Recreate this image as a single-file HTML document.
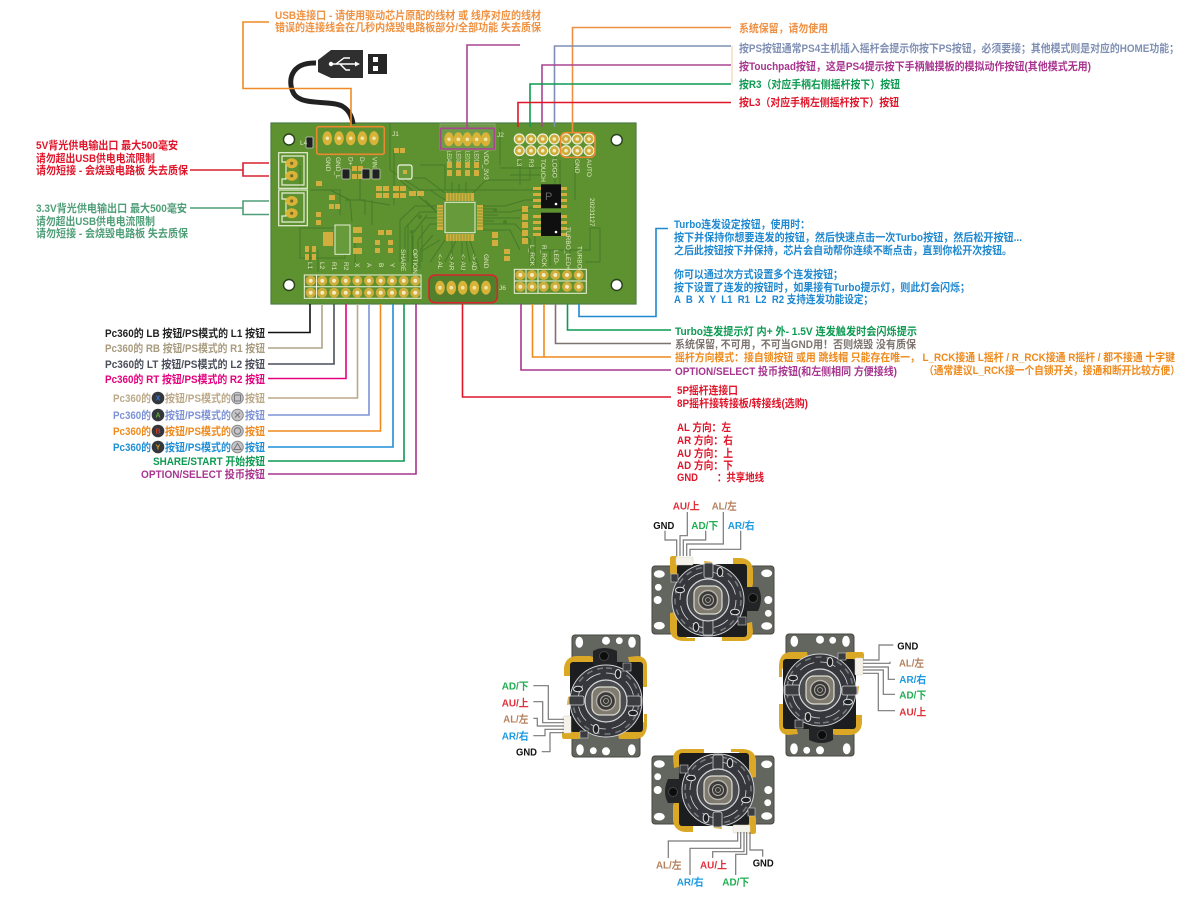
<!DOCTYPE html>
<html><head><meta charset="utf-8"><style>
html,body{margin:0;padding:0;background:#fff}
svg{display:block;filter:blur(.35px)}
text{font-family:"Liberation Sans","Noto Sans CJK SC",sans-serif;font-size:11px;font-weight:700}
.s text{font-size:6.5px;font-weight:400;fill:#dfeac2}
.w{fill:none;stroke:#787878;stroke-width:1.2}
.l{fill:none;stroke-width:1.6}
.j{font-size:10.5px}
</style></head><body>
<svg width="1200" height="900" viewBox="0 0 1200 900" xmlns="http://www.w3.org/2000/svg">
<defs>
<g id="pad"><ellipse rx="4.8" ry="7" fill="#d8b338"/><circle r="1.8" fill="#efe6a8"/></g>
<g id="pin"><circle r="5.6" fill="#eef2d8"/><circle r="4.4" fill="#cfad3a"/><circle r="1.8" fill="#f3ecc0"/></g>
<g id="pin2"><circle r="5" fill="#cfad3a"/><circle r="2" fill="#f3ecc0"/></g>
<g id="joy">
<rect x="-56" y="-34" width="122" height="68" rx="3" fill="#63665f" stroke="#44473f"/>
<ellipse cx="-48.7" cy="-26" rx="5.5" ry="3.8" fill="#fff"/>
<ellipse cx="58.7" cy="-26.7" rx="5.5" ry="3.8" fill="#fff"/>
<ellipse cx="-48.7" cy="25.7" rx="5.5" ry="3.8" fill="#fff"/>
<ellipse cx="58.7" cy="26" rx="5.5" ry="3.8" fill="#fff"/>
<circle cx="-49.700" cy="-12.700" r="3.400" fill="#fff"/>
<circle cx="-50.300" cy="0" r="4" fill="#fff"/>
<circle cx="60.300" cy="0" r="4" fill="#fff"/>
<circle cx="60.300" cy="13.300" r="3.400" fill="#fff"/>
<path d="M-38 -42q0-2 3-2h3q4 1 5 6v14h-3q-8 1-8-4Z" fill="#dba826"/>
<path d="M-4 -39l8 1 2 5-8 2Z" fill="#dba826"/>
<path d="M25 -42h8q11 1 12 12v14q-1 6-5 6l-6-12q0-9-9-13Z" fill="#dba826"/>
<path d="M-38 13l5-1 12 26h8v3h-12q-13-1-13-12Z" fill="#dba826"/>
<path d="M14 41v-5l13-10 17-4 1 10q-1 9-10 9Z" fill="#dba826"/>
<rect x="-31" y="-36" width="70" height="73" rx="3" fill="#1c1d1f"/>
<path d="M36 -13H50Q56 -2 50 11H36Z" fill="#232426"/>
<circle cx="45" cy="-2" r="4.500" fill="#0d0d0d" stroke="#444"/>
<rect x="-32" y="-43" width="17" height="8" rx="1" fill="#f4f2ea" stroke="#d8d4c4" stroke-width=".5"/>
<circle r="36" fill="#35373c" stroke="#cfd2d4" stroke-width="1"/>
<circle r="28" fill="none" stroke="#d4d6d8" stroke-width=".8" stroke-dasharray="16 6"/>
<circle r="33" fill="none" stroke="#777a7e" stroke-width="1.5" stroke-dasharray="6 5"/>
<rect x="-4" y="-37" width="9" height="15" rx="2" fill="#3a3c40" stroke="#d0d2d4" stroke-width=".8"/>
<rect x="-5" y="20" width="10" height="15" rx="2" fill="#3a3c40" stroke="#d0d2d4" stroke-width=".8"/>
<ellipse cx="-28" cy="-10" rx="4.500" ry="2.800" fill="#202124" stroke="#e2e2e2" stroke-width="1"/>
<ellipse cx="27" cy="12" rx="4.500" ry="2.800" fill="#202124" stroke="#e2e2e2" stroke-width="1"/>
<ellipse cx="12" cy="-28" rx="2.800" ry="4.500" fill="#202124" stroke="#e2e2e2" stroke-width="1"/>
<ellipse cx="-12" cy="27" rx="2.800" ry="4.500" fill="#202124" stroke="#e2e2e2" stroke-width="1"/>
<rect x="-37" y="-26" width="7" height="8" fill="#3a3c40" stroke="#ccc" stroke-width=".6"/>
<rect x="30" y="17" width="8" height="8" fill="#3a3c40" stroke="#ccc" stroke-width=".6"/>
<circle r="21" fill="#4a4c50" stroke="#d5d7d9" stroke-width="1.200"/>
<rect x="-14" y="-14" width="28" height="28" rx="8" fill="#7f7b70" stroke="#dedbd0" stroke-width="1.200"/>
<circle r="9.500" fill="#3a3a3a" stroke="#b5b1a6" stroke-width="1.400"/>
<circle r="5.500" fill="none" stroke="#b0aca2" stroke-width="1"/>
<circle r="2.500" fill="none" stroke="#b0aca2" stroke-width=".8"/>
</g>
</defs>

<!-- board -->
<rect x="271" y="123" width="365" height="181" fill="#5e9130" stroke="#4c7d44" stroke-width="1.200"/>
<g fill="none" stroke="#477a28" stroke-width="1">
<path d="M390 123V170L420 190H540M394 150V205M400 180L440 215M420 165H445V190M440 125V150M500 128V165M510 175H541M500 168H541M510 190H541"/>
<path d="M437 206H415L400 220V262M437 212H420L405 228V268M437 218H425L412 234V272M437 224H430L418 240V270M445 240L430 262M452 241V270M462 241V272M470 241L480 270"/>
<path d="M483 206H505L525 200H541M483 212H510L530 208H541M483 218H520M483 224H515L530 240V266M483 230H510L520 250M540 250H590V228H600V262H585"/>
<path d="M300 228H345V258H300ZM310 250V270M318 250V272M355 238V265M372 200V225M360 175V200L390 205M345 200H365V215M330 190L350 200L352 222"/>
<path d="M520 155V185M530 155V180M555 155V185M560 160V185M575 160V200M570 250V266M550 250V266M535 235V266M430 190L445 200M425 200L435 210"/>
<path d="M408 225V262M413 235V266M422 225V262M427 215L414 232M433 235L420 250M300 165V190M310 190H340V215M445 193L425 178H400M452 193V182M459 193V184M466 193V182M473 193L486 180H530"/>
<path d="M483 209H495M483 215H498M483 221H494M440 240L420 252V268M456 241L445 262M466 241L470 262"/>
</g>
<g fill="#4a8128">
<circle cx="447" cy="212" r="2"/><circle cx="458" cy="212" r="2"/><circle cx="466" cy="218" r="2"/><circle cx="454" cy="223" r="2"/><circle cx="462" cy="227" r="2"/><circle cx="420" cy="217" r="2"/><circle cx="412" cy="232" r="2"/><circle cx="495" cy="210" r="2"/><circle cx="505" cy="222" r="2"/>
</g>
<!-- holes -->
<g fill="#fff" stroke="#28421c" stroke-width="1.400">
<circle cx="289" cy="139.500" r="5.500"/><circle cx="616.700" cy="140" r="5.500"/><circle cx="289" cy="285" r="5.500"/><circle cx="616.700" cy="285" r="5.500"/>
</g>
<!-- JST -->
<g fill="none" stroke="#e6efd6" stroke-width="1.200">
<rect x="278.700" y="152.700" width="28.600" height="35.600"/>
<rect x="278.700" y="190" width="28.600" height="35.700"/>
<path d="M282 156H304V185H282V179H286V162H282Z"/>
<path d="M282 193H304V222H282V216H286V199H282Z"/>
</g>
<g fill="#d8b338"><ellipse cx="291.700" cy="163.300" rx="6" ry="5"/><ellipse cx="291.700" cy="175.700" rx="6" ry="5"/><ellipse cx="291.700" cy="201" rx="6" ry="5"/><ellipse cx="291.700" cy="213.300" rx="6" ry="5"/></g>
<g fill="#7a6a20"><circle cx="291.700" cy="163.300" r="1.600"/><circle cx="291.700" cy="175.700" r="1.600"/><circle cx="291.700" cy="201" r="1.600"/><circle cx="291.700" cy="213.300" r="1.600"/></g>
<!-- J1 -->
<use href="#pad" x="327.300" y="138.300"/><use href="#pad" x="339" y="138.300"/><use href="#pad" x="350.700" y="138.300"/><use href="#pad" x="362.300" y="138.300"/><use href="#pad" x="374" y="138.300"/>
<rect x="316.700" y="126.700" width="67.600" height="27.600" rx="2" fill="none" stroke="#e9892f" stroke-width="1.600"/>
<!-- J2 -->
<rect x="440" y="124" width="55" height="26" fill="#6f9a48" stroke="#8fae70" stroke-width=".8"/>
<use href="#pad" x="449" y="139.300"/><use href="#pad" x="458.300" y="139.300"/><use href="#pad" x="467.300" y="139.300"/><use href="#pad" x="476.700" y="139.300"/><use href="#pad" x="485.700" y="139.300"/>
<rect x="440.700" y="128.300" width="53.600" height="20.700" fill="none" stroke="#a8468f" stroke-width="1.600"/>
<!-- J6 -->
<g>
<use href="#pin" x="519.300" y="139"/><use href="#pin" x="531" y="139"/><use href="#pin" x="542.700" y="139"/><use href="#pin" x="554.300" y="139"/><use href="#pin" x="566" y="139"/><use href="#pin" x="577.300" y="139"/><use href="#pin" x="589" y="139"/>
<use href="#pin" x="519.300" y="150.700"/><use href="#pin" x="531" y="150.700"/><use href="#pin" x="542.700" y="150.700"/><use href="#pin" x="554.300" y="150.700"/><use href="#pin" x="566" y="150.700"/><use href="#pin" x="577.300" y="150.700"/><use href="#pin" x="589" y="150.700"/>
</g>
<rect x="560.700" y="132.700" width="34.300" height="24.600" rx="5" fill="none" stroke="#e9892f" stroke-width="1.600"/>
<!-- red box J -->
<rect x="429" y="275" width="68.300" height="27.700" rx="6" fill="#527f2c" stroke="#d8252e" stroke-width="1.600"/>
<use href="#pad" x="440" y="287.700"/><use href="#pad" x="451.300" y="287.700"/><use href="#pad" x="462.700" y="287.700"/><use href="#pad" x="474.300" y="287.700"/><use href="#pad" x="486" y="287.700"/>
<!-- bottom left header -->
<g fill="none" stroke="#eef2d8" stroke-width="1"><rect x="304.300" y="275" width="116.700" height="23.300"/><path d="M304.300 286.700H421M316.500 275V298.300"/></g>
<g>
<use href="#pin2" x="310.700" y="280.700"/><use href="#pin2" x="322.300" y="280.700"/><use href="#pin2" x="334" y="280.700"/><use href="#pin2" x="345.700" y="280.700"/><use href="#pin2" x="357.300" y="280.700"/><use href="#pin2" x="369" y="280.700"/><use href="#pin2" x="380.700" y="280.700"/><use href="#pin2" x="392" y="280.700"/><use href="#pin2" x="403.700" y="280.700"/><use href="#pin2" x="415.300" y="280.700"/>
<use href="#pin2" x="310.700" y="292.700"/><use href="#pin2" x="322.300" y="292.700"/><use href="#pin2" x="334" y="292.700"/><use href="#pin2" x="345.700" y="292.700"/><use href="#pin2" x="357.300" y="292.700"/><use href="#pin2" x="369" y="292.700"/><use href="#pin2" x="380.700" y="292.700"/><use href="#pin2" x="392" y="292.700"/><use href="#pin2" x="403.700" y="292.700"/><use href="#pin2" x="415.300" y="292.700"/>
</g>
<!-- bottom right header -->
<g fill="none" stroke="#eef2d8" stroke-width="1"><rect x="514.300" y="269.300" width="72" height="24"/><path d="M514.300 281H586.300M526 269.300V293.300M538 269.300V293.300"/></g>
<g>
<use href="#pin2" x="520.300" y="275"/><use href="#pin2" x="532" y="275"/><use href="#pin2" x="543.700" y="275"/><use href="#pin2" x="555.300" y="275"/><use href="#pin2" x="567" y="275"/><use href="#pin2" x="578.700" y="275"/>
<use href="#pin2" x="520.300" y="286.700"/><use href="#pin2" x="532" y="286.700"/><use href="#pin2" x="543.700" y="286.700"/><use href="#pin2" x="555.300" y="286.700"/><use href="#pin2" x="567" y="286.700"/><use href="#pin2" x="578.700" y="286.700"/>
</g>
<!-- MCU -->
<g fill="#d1ae3d">
<rect x="446" y="193" width="28" height="8"/><rect x="446" y="234" width="28" height="7"/><rect x="437" y="205" width="6" height="25"/><rect x="477" y="205" width="6" height="25"/>
</g>
<g stroke="#5e9130" stroke-width=".7">
<path d="M449 193v8M452 193v8M455 193v8M458 193v8M461 193v8M464 193v8M467 193v8M470 193v8M449 234v7M452 234v7M455 234v7M458 234v7M461 234v7M464 234v7M467 234v7M470 234v7M437 208h6M437 211h6M437 214h6M437 217h6M437 220h6M437 223h6M437 226h6M477 208h6M477 211h6M477 214h6M477 217h6M477 220h6M477 223h6M477 226h6"/>
</g>
<rect x="445" y="202.300" width="30" height="30.400" fill="#669a3a" stroke="#e6efd6" stroke-width="1"/>
<!-- ICs -->
<g fill="#d1ae3d">
<rect x="533" y="187" width="8" height="3"/><rect x="533" y="193" width="8" height="3"/><rect x="533" y="199" width="8" height="3"/><rect x="533" y="205" width="8" height="3"/>
<rect x="561" y="187" width="6" height="3"/><rect x="561" y="193" width="6" height="3"/><rect x="561" y="199" width="6" height="3"/><rect x="561" y="205" width="6" height="3"/>
<rect x="533" y="215" width="8" height="3"/><rect x="533" y="221" width="8" height="3"/><rect x="533" y="227" width="8" height="3"/><rect x="533" y="233" width="8" height="3"/>
<rect x="561" y="215" width="6" height="3"/><rect x="561" y="221" width="6" height="3"/><rect x="561" y="227" width="6" height="3"/><rect x="561" y="233" width="6" height="3"/>
</g>
<rect x="541" y="184.300" width="20" height="24" fill="#0f0f10"/><rect x="541" y="212.700" width="20" height="23.300" fill="#0f0f10"/>
<text x="545" y="200" style="font-size:11px;font-weight:400" fill="#666">P</text>
<circle cx="556" cy="204" r="1.300" fill="#fff"/><circle cx="556" cy="232" r="1.300" fill="#fff"/>
<!-- side caps column -->
<g fill="#d1ae3d">
<rect x="522" y="206" width="6" height="6"/><rect x="522" y="214" width="6" height="6"/><rect x="522" y="222" width="6" height="6"/><rect x="522" y="230" width="6" height="6"/><rect x="522" y="238" width="6" height="6"/>
<rect x="492" y="232" width="6" height="6"/><rect x="492" y="240" width="6" height="6"/>
<rect x="504" y="249" width="6" height="5"/><rect x="504" y="256" width="6" height="5"/>
</g>
<!-- components left -->
<rect x="335" y="225" width="15" height="29.300" fill="#669a3a" stroke="#e6efd6" stroke-width="1"/>
<g fill="#d1ae3d">
<rect x="353" y="227" width="9" height="6"/><rect x="353" y="237" width="9" height="6"/><rect x="353" y="248" width="9" height="6"/><rect x="323" y="232" width="10" height="14"/>
<rect x="305" y="246" width="4" height="6"/><rect x="312" y="246" width="4" height="6"/><rect x="305" y="254" width="4" height="6"/><rect x="312" y="254" width="4" height="6"/>
<rect x="316" y="181" width="6" height="5"/><rect x="316" y="212" width="5" height="5"/><rect x="316" y="220" width="5" height="5"/>
<rect x="329" y="195" width="6" height="5"/><rect x="335" y="204" width="5" height="5"/><rect x="329" y="204" width="5" height="5"/>
<rect x="352" y="166" width="5" height="5"/><rect x="352" y="174" width="5" height="5"/><rect x="358" y="166" width="5" height="5"/><rect x="358" y="174" width="5" height="5"/>
<rect x="376" y="186" width="6" height="5"/><rect x="376" y="193" width="6" height="5"/><rect x="383" y="186" width="6" height="5"/><rect x="383" y="193" width="6" height="5"/>
<rect x="393" y="186" width="6" height="5"/><rect x="393" y="193" width="6" height="5"/><rect x="400" y="186" width="6" height="5"/><rect x="400" y="193" width="6" height="5"/>
<rect x="409" y="191" width="7" height="5"/><rect x="417" y="191" width="7" height="5"/>
<rect x="375" y="240" width="5" height="5"/><rect x="375" y="248" width="5" height="5"/><rect x="388" y="240" width="5" height="5"/><rect x="388" y="248" width="5" height="5"/>
<rect x="378" y="230" width="6" height="5"/><rect x="386" y="230" width="6" height="5"/>
<rect x="394" y="148" width="5" height="5"/><rect x="400" y="148" width="5" height="5"/>
<rect x="447" y="162" width="5" height="6"/><rect x="456" y="162" width="5" height="6"/><rect x="465" y="162" width="5" height="6"/><rect x="474" y="162" width="5" height="6"/>
<rect x="447" y="170" width="5" height="6"/><rect x="456" y="170" width="5" height="6"/><rect x="465" y="170" width="5" height="6"/><rect x="474" y="170" width="5" height="6"/>
</g>
<g fill="#1f2022" stroke="#c8cdb8" stroke-width=".8">
<rect x="342" y="169" width="8" height="10" rx="1"/><rect x="362" y="169" width="8" height="10" rx="1"/><rect x="372" y="169" width="8" height="10" rx="1"/><rect x="306" y="137" width="7" height="11" rx="1"/>
</g>
<rect x="398" y="165" width="14" height="14" rx="2" fill="#669a3a" stroke="#f3f5e4" stroke-width="1.200"/>
<rect x="403" y="170" width="4" height="4" fill="#d1ae3d"/>
<!-- silk -->
<g class="s">
<text transform="translate(326,157) rotate(90)">GND</text>
<text transform="translate(336,157) rotate(90)">GND_L</text>
<text transform="translate(348.500,157) rotate(90)">D+</text>
<text transform="translate(360,157) rotate(90)">D-</text>
<text transform="translate(372.500,157) rotate(90)">VIN</text>
<text transform="translate(447,151) rotate(90)" textLength="11" lengthAdjust="spacingAndGlyphs">LED4</text>
<text transform="translate(456.500,151) rotate(90)" textLength="11" lengthAdjust="spacingAndGlyphs">LED3</text>
<text transform="translate(465.500,151) rotate(90)" textLength="11" lengthAdjust="spacingAndGlyphs">LED2</text>
<text transform="translate(474.500,151) rotate(90)" textLength="11" lengthAdjust="spacingAndGlyphs">LED1</text>
<text transform="translate(484,151) rotate(90)">VDD_3V3</text>
<text transform="translate(517,159) rotate(90)">L3</text>
<text transform="translate(529,159) rotate(90)">R3</text>
<text transform="translate(541,159) rotate(90)">TOUCH</text>
<text transform="translate(552.500,159) rotate(90)">LOGO</text>
<text transform="translate(575,159) rotate(90)">GND</text>
<text transform="translate(587,159) rotate(90)">AUTO</text>
<text transform="translate(308,262) rotate(90)">L1</text>
<text transform="translate(320,262) rotate(90)">L2</text>
<text transform="translate(332,262) rotate(90)">R1</text>
<text transform="translate(344,262) rotate(90)">R2</text>
<text transform="translate(355,263) rotate(90)">X</text>
<text transform="translate(367,263) rotate(90)">A</text>
<text transform="translate(379,263) rotate(90)">B</text>
<text transform="translate(390,263) rotate(90)">Y</text>
<text transform="translate(401,249) rotate(90)">SHARE</text>
<text transform="translate(413,249) rotate(90)">OPTION</text>
<text transform="translate(438,254) rotate(90)">&lt;- AL</text>
<text transform="translate(449.500,254) rotate(90)">-&gt; AR</text>
<text transform="translate(461,254) rotate(90)">&lt;- AU</text>
<text transform="translate(472,254) rotate(90)">-&gt; AD</text>
<text transform="translate(484,254) rotate(90)">GND</text>
<text transform="translate(530,245) rotate(90)">L_RCK</text>
<text transform="translate(542,245) rotate(90)">R_RCK</text>
<text transform="translate(554,250) rotate(90)">LED-</text>
<text transform="translate(566,227) rotate(90)">TURBO_LED+</text>
<text transform="translate(577.500,246) rotate(90)">TURBO</text>
<text transform="translate(590,198) rotate(90)">20231127</text>
<text x="300" y="145">L4</text><text x="392" y="136">J1</text><text x="497" y="137">J2</text><text x="499" y="290">J6</text>
</g>

<!-- USB cable -->
<path d="M316 63C290 62 287 82 294 94C302 106 330 100 342 106C349 110 352 116 353 124" fill="none" stroke="#222" stroke-width="5"/>
<path d="M318 60L331 50H363V78H331L318 72Z" fill="#2f2f2f"/>
<rect x="368" y="54" width="19" height="20" fill="#262626"/>
<rect x="373" y="57" width="5" height="5" fill="#fff"/><rect x="373" y="66" width="5" height="5" fill="#fff"/>
<path d="M331 64H356M336 64L344 58H350M340 64L346 70H350" fill="none" stroke="#fff" stroke-width="1.400"/>
<circle cx="331" cy="64" r="2.200" fill="#fff"/><path d="M355 61.500L360 64L355 66.500Z" fill="#fff"/>

<!-- connectors -->
<g class="l">
<path d="M269 22H243V88.500H351V127" stroke="#ef8a24"/>
<path d="M520 45H467V128" stroke="#a8468f"/>
<path d="M731 27.500H572.500V133" stroke="#ef8f42"/>
<path d="M731 46H554.500V127" stroke="#7f8fb4"/>
<path d="M731 65H542V127" stroke="#a8468f"/>
<path d="M731 84H530V127" stroke="#0e9a52"/>
<path d="M731 102.500H518V127" stroke="#e0152a"/>
<path d="M190 170H243M269 163H243V176H269" stroke="#d9202e"/>
<path d="M190 208H243M269 201H243V214.500H269" stroke="#4f9e78"/>
<path d="M268 332.500H310V304" stroke="#111"/>
<path d="M268 348H322V304" stroke="#b0a488"/>
<path d="M268 364H334V304" stroke="#4a4f5a"/>
<path d="M268 378.500H346V304" stroke="#e6007e"/>
<path d="M268 398H357.500V304" stroke="#bca988"/>
<path d="M268 415H369V304" stroke="#7d93d6"/>
<path d="M268 431H380.500V304" stroke="#ef8a1c"/>
<path d="M268 447H393V304" stroke="#1e8fd6"/>
<path d="M268 461H404V304" stroke="#0e9a52"/>
<path d="M268 474H416V304" stroke="#a8358f"/>
<path d="M579 304V316.500H656V228.500H668" stroke="#1e88d0"/>
<path d="M567.500 304V330H671" stroke="#0e9a52"/>
<path d="M555.500 304V343.500H671" stroke="#7d7470"/>
<path d="M532.500 304V357H671M544 304V357" stroke="#ef8a1c"/>
<path d="M521 304V370H671" stroke="#a8358f"/>
<path d="M462.500 304V397H671" stroke="#e0152a"/>
<path d="M732 46V84" stroke="#f3c9a4" stroke-width="1"/>
</g>

<!-- top texts -->
<text x="275" y="19" textLength="266" lengthAdjust="spacingAndGlyphs" fill="#ef9242">USB连接口 - 请使用驱动芯片原配的线材 或 线序对应的线材</text>
<text x="275" y="31" textLength="266" lengthAdjust="spacingAndGlyphs" fill="#ef9242">错误的连接线会在几秒内烧毁电路板部分/全部功能 失去质保</text>
<text x="739" y="32" textLength="89" lengthAdjust="spacingAndGlyphs" fill="#ef8f42">系统保留，请勿使用</text>
<text x="739" y="52" textLength="440" lengthAdjust="spacingAndGlyphs" fill="#7f8fb4">按PS按钮通常PS4主机插入摇杆会提示你按下PS按钮，必须要接；其他模式则是对应的HOME功能；</text>
<text x="739" y="70" textLength="352" lengthAdjust="spacingAndGlyphs" fill="#a8358f">按Touchpad按钮，这是PS4提示按下手柄触摸板的模拟动作按钮(其他模式无用)</text>
<text x="739" y="88" textLength="161" lengthAdjust="spacingAndGlyphs" fill="#0e9a52">按R3（对应手柄右侧摇杆按下）按钮</text>
<text x="739" y="106" textLength="160" lengthAdjust="spacingAndGlyphs" fill="#e0152a">按L3（对应手柄左侧摇杆按下）按钮</text>

<!-- left texts -->
<g fill="#e0152a">
<text x="36" y="149" textLength="142" lengthAdjust="spacingAndGlyphs">5V背光供电输出口 最大500毫安</text>
<text x="36" y="162" textLength="119" lengthAdjust="spacingAndGlyphs">请勿超出USB供电电流限制</text>
<text x="36" y="174" textLength="152" lengthAdjust="spacingAndGlyphs">请勿短接 - 会烧毁电路板 失去质保</text>
</g>
<g fill="#4f9e78">
<text x="36" y="212" textLength="151" lengthAdjust="spacingAndGlyphs">3.3V背光供电输出口 最大500毫安</text>
<text x="36" y="225" textLength="119" lengthAdjust="spacingAndGlyphs">请勿超出USB供电电流限制</text>
<text x="36" y="237" textLength="152" lengthAdjust="spacingAndGlyphs">请勿短接 - 会烧毁电路板 失去质保</text>
</g>

<text x="105" y="337" textLength="160" lengthAdjust="spacingAndGlyphs" fill="#222">Pc360的 LB 按钮/PS模式的 L1 按钮</text>
<text x="105" y="352" textLength="160" lengthAdjust="spacingAndGlyphs" fill="#a89b7f">Pc360的 RB 按钮/PS模式的 R1 按钮</text>
<text x="105" y="368" textLength="160" lengthAdjust="spacingAndGlyphs" fill="#4a4f5a">Pc360的 LT 按钮/PS模式的 L2 按钮</text>
<text x="105" y="383" textLength="160" lengthAdjust="spacingAndGlyphs" fill="#e6007e">Pc360的 RT 按钮/PS模式的 R2 按钮</text>

<g fill="#bca988"><text x="113" y="402" textLength="38" lengthAdjust="spacingAndGlyphs">Pc360的</text><text x="165" y="402" textLength="66" lengthAdjust="spacingAndGlyphs">按钮/PS模式的</text><text x="245" y="402" textLength="20" lengthAdjust="spacingAndGlyphs">按钮</text></g>
<g fill="#7d93d6"><text x="113" y="419" textLength="38" lengthAdjust="spacingAndGlyphs">Pc360的</text><text x="165" y="419" textLength="66" lengthAdjust="spacingAndGlyphs">按钮/PS模式的</text><text x="245" y="419" textLength="20" lengthAdjust="spacingAndGlyphs">按钮</text></g>
<g fill="#ef8a1c"><text x="113" y="435" textLength="38" lengthAdjust="spacingAndGlyphs">Pc360的</text><text x="165" y="435" textLength="66" lengthAdjust="spacingAndGlyphs">按钮/PS模式的</text><text x="245" y="435" textLength="20" lengthAdjust="spacingAndGlyphs">按钮</text></g>
<g fill="#1e8fd6"><text x="113" y="451" textLength="38" lengthAdjust="spacingAndGlyphs">Pc360的</text><text x="165" y="451" textLength="66" lengthAdjust="spacingAndGlyphs">按钮/PS模式的</text><text x="245" y="451" textLength="20" lengthAdjust="spacingAndGlyphs">按钮</text></g>
<g fill="#34373c">
<circle cx="158" cy="398" r="6.300"/><circle cx="158" cy="415" r="6.300"/><circle cx="158" cy="431" r="6.300"/><circle cx="158" cy="447" r="6.300"/>
</g>
<g text-anchor="middle">
<text x="158" y="400.500" style="font-size:7px" fill="#3f78d0">X</text>
<text x="158" y="417.500" style="font-size:7px" fill="#5fae3a">A</text>
<text x="158" y="433.500" style="font-size:7px" fill="#c8382e">B</text>
<text x="158" y="449.500" style="font-size:7px" fill="#d9a52a">Y</text>
</g>
<g fill="#c4c4c6" stroke="#8b8b8d">
<circle cx="237.500" cy="398" r="5.800"/><circle cx="237.500" cy="415" r="5.800"/><circle cx="237.500" cy="431" r="5.800"/><circle cx="237.500" cy="447" r="5.800"/>
</g>
<g fill="none" stroke="#77777a" stroke-width="1">
<rect x="234.500" y="395" width="6" height="6"/><path d="M235 412.500l5 5m0-5l-5 5"/><circle cx="237.500" cy="431" r="3.200"/><path d="M237.500 443.500l3.500 6h-7Z"/>
</g>
<text x="153" y="465" textLength="112" lengthAdjust="spacingAndGlyphs" fill="#0e9a52">SHARE/START 开始按钮</text>
<text x="141" y="478" textLength="124" lengthAdjust="spacingAndGlyphs" fill="#a8358f">OPTION/SELECT 投币按钮</text>

<!-- right texts -->
<g fill="#1e88d0">
<text x="674" y="228" textLength="136" lengthAdjust="spacingAndGlyphs">Turbo连发设定按钮，使用时：</text>
<text x="674" y="241" textLength="348" lengthAdjust="spacingAndGlyphs">按下并保持你想要连发的按钮，然后快速点击一次Turbo按钮，然后松开按钮...</text>
<text x="674" y="254" textLength="338" lengthAdjust="spacingAndGlyphs">之后此按钮按下并保持，芯片会自动帮你连续不断点击，直到你松开次按钮。</text>
<text x="674" y="278" textLength="169" lengthAdjust="spacingAndGlyphs">你可以通过次方式设置多个连发按钮；</text>
<text x="674" y="291" textLength="296" lengthAdjust="spacingAndGlyphs">按下设置了连发的按钮时，如果接有Turbo提示灯，则此灯会闪烁；</text>
<text x="674" y="303" textLength="199" lengthAdjust="spacingAndGlyphs" xml:space="preserve">A  B  X  Y  L1  R1  L2  R2 支持连发功能设定；</text>
</g>
<text x="675" y="335" textLength="242" lengthAdjust="spacingAndGlyphs" fill="#0e9a52">Turbo连发提示灯 内+ 外- 1.5V 连发触发时会闪烁提示</text>
<text x="675" y="348" textLength="241" lengthAdjust="spacingAndGlyphs" fill="#7d7470">系统保留, 不可用，不可当GND用！否则烧毁 没有质保</text>
<text x="675" y="361" textLength="500" lengthAdjust="spacingAndGlyphs" fill="#ef8a1c">摇杆方向模式：接自锁按钮 或用 跳线帽 只能存在唯一， L_RCK接通 L摇杆 / R_RCK接通 R摇杆 / 都不接通 十字键</text>
<text x="675" y="375" textLength="222" lengthAdjust="spacingAndGlyphs" fill="#a8358f">OPTION/SELECT 投币按钮(和左侧相同 方便接线)</text>
<text x="924" y="374" textLength="256" lengthAdjust="spacingAndGlyphs" fill="#ef8a1c">（通常建议L_RCK接一个自锁开关，接通和断开比较方便）</text>
<g fill="#e0152a">
<text x="677" y="394" textLength="61" lengthAdjust="spacingAndGlyphs">5P摇杆连接口</text>
<text x="677" y="407" textLength="131" lengthAdjust="spacingAndGlyphs">8P摇杆接转接板/转接线(选购)</text>
<text x="677" y="431" textLength="54" lengthAdjust="spacingAndGlyphs">AL 方向：左</text>
<text x="677" y="444" textLength="56" lengthAdjust="spacingAndGlyphs">AR 方向：右</text>
<text x="677" y="457" textLength="56" lengthAdjust="spacingAndGlyphs">AU 方向：上</text>
<text x="677" y="469" textLength="56" lengthAdjust="spacingAndGlyphs">AD 方向：下</text>
<text x="677" y="481" textLength="21" lengthAdjust="spacingAndGlyphs">GND</text>
<text x="717" y="481" textLength="47" lengthAdjust="spacingAndGlyphs">：共享地线</text>
</g>

<!-- joysticks -->
<use href="#joy" transform="translate(708,600)"/>
<use href="#joy" transform="translate(820,690) rotate(90)"/>
<use href="#joy" transform="translate(718,790) rotate(180)"/>
<use href="#joy" transform="translate(606,701) rotate(270)"/>

<!-- joystick wires -->
<path class="w" d="M665 530.700V540H676.700V556M687.300 512V535.700H680V556M705.700 530.700V540H683.300V556M723.300 512V544H686.700V556M740.700 530.700V549.300H690V556"/>
<path class="w" d="M893.300 645H879V660H863M890 661.700V663.300H863M895 679.300H888.300V667H863M895 694.300H883.300V670H863M895 710.700H878.300V673.300H863"/>
<path class="w" d="M668.300 858V841H737.700V832M690 875V848.300H740.700V832M712.700 858V851.700H744V832M735.700 875V854.300H746.700V832M762.700 856.700V850H750V832"/>
<path class="w" d="M533.300 685.700H548.300V719.300H564M533.300 701.700H542.700V722.700H564M533.300 718.300H537.300V726H564M533.300 735.700H545V729.300H564M541.700 751.700H550V732.700H564"/>

<!-- joystick labels -->
<g>
<text class="j" x="672.700" y="509.500" textLength="27" lengthAdjust="spacingAndGlyphs" fill="#e0303a">AU/上</text>
<text class="j" x="711.700" y="509.500" textLength="25" lengthAdjust="spacingAndGlyphs" fill="#b5805e">AL/左</text>
<text class="j" x="653.300" y="529" textLength="21" lengthAdjust="spacingAndGlyphs" fill="#111">GND</text>
<text class="j" x="691.300" y="529" textLength="27" lengthAdjust="spacingAndGlyphs" fill="#1fae50">AD/下</text>
<text class="j" x="727.700" y="529" textLength="27" lengthAdjust="spacingAndGlyphs" fill="#1e9be0">AR/右</text>

<text class="j" x="897.300" y="649.700" textLength="21" lengthAdjust="spacingAndGlyphs" fill="#111">GND</text>
<text class="j" x="899" y="666.300" textLength="25" lengthAdjust="spacingAndGlyphs" fill="#b5805e">AL/左</text>
<text class="j" x="899.300" y="683" textLength="27" lengthAdjust="spacingAndGlyphs" fill="#1e9be0">AR/右</text>
<text class="j" x="899.300" y="698.300" textLength="27" lengthAdjust="spacingAndGlyphs" fill="#1fae50">AD/下</text>
<text class="j" x="899.300" y="715.700" textLength="27" lengthAdjust="spacingAndGlyphs" fill="#e0303a">AU/上</text>

<text class="j" x="656" y="868.300" textLength="25.500" lengthAdjust="spacingAndGlyphs" fill="#b5805e">AL/左</text>
<text class="j" x="700" y="868.300" textLength="27" lengthAdjust="spacingAndGlyphs" fill="#e0303a">AU/上</text>
<text class="j" x="752.700" y="866.300" textLength="21" lengthAdjust="spacingAndGlyphs" fill="#111">GND</text>
<text class="j" x="676.700" y="885.700" textLength="27" lengthAdjust="spacingAndGlyphs" fill="#1e9be0">AR/右</text>
<text class="j" x="722.300" y="885.700" textLength="27" lengthAdjust="spacingAndGlyphs" fill="#1fae50">AD/下</text>

<text class="j" x="501.700" y="689.700" textLength="27" lengthAdjust="spacingAndGlyphs" fill="#1fae50">AD/下</text>
<text class="j" x="501.700" y="706.700" textLength="27" lengthAdjust="spacingAndGlyphs" fill="#e0303a">AU/上</text>
<text class="j" x="503.300" y="722.700" textLength="25" lengthAdjust="spacingAndGlyphs" fill="#b5805e">AL/左</text>
<text class="j" x="501.700" y="739.700" textLength="27" lengthAdjust="spacingAndGlyphs" fill="#1e9be0">AR/右</text>
<text class="j" x="516" y="755.700" textLength="21" lengthAdjust="spacingAndGlyphs" fill="#111">GND</text>
</g>
</svg>
</body></html>
